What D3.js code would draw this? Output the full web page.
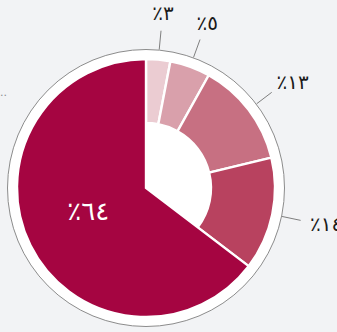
<!DOCTYPE html>
<html>
<head>
<meta charset="utf-8">
<script src="https://cdn.jsdelivr.net/npm/d3@7"></script>
<style>
  html, body { margin: 0; padding: 0; background: #f2f3f5; }
  svg { display: block; }
  text { font-family: "DejaVu Sans", sans-serif; }
</style>
</head>
<body>
<svg id="chart" width="337" height="332"></svg>
<script>
// Shares, in percent, clockwise from twelve o'clock
const shareNames = ["a", "b", "c", "d", "e"];
const shareValues = [3, 5, 13, 14, 64];
const shareColors = ["#ebccd2", "#d9a0ab", "#c77082", "#b8425f", "#a50541"];

const W = 337, H = 332;
const cx = 146, cy = 188;
const rOuter = 129, rInner = 65, rRing = 138.5;

const svg = d3.select("#chart");
svg.append("rect").attr("width", W).attr("height", H).attr("fill", "#f2f3f5");

// Truncated caption at the left edge
svg.append("text")
  .attr("x", 0).attr("y", 96)
  .attr("font-size", 11)
  .attr("fill", "#8a8d93")
  .text("..");

const g = svg.append("g").attr("transform", `translate(${cx},${cy})`);

// White ring with thin gray rim
g.append("circle")
  .attr("r", rRing)
  .attr("fill", "#ffffff")
  .attr("stroke", "#8c8c8c")
  .attr("stroke-width", 1);

const pie = d3.pie().sort(null).value(d => d.value);
const data = shareNames.map((n, i) => ({ name: n, value: shareValues[i], color: shareColors[i] }));
const arcs = pie(data);
const maxVal = d3.max(shareValues);

// Largest share runs to the centre, the rest leave a white hole
const arc = d3.arc()
  .outerRadius(rOuter)
  .innerRadius(d => d.data.value === maxVal ? 0 : rInner);

g.selectAll("path.slice")
  .data(arcs)
  .join("path")
  .attr("class", "slice")
  .attr("d", arc)
  .attr("fill", d => d.data.color)
  .attr("stroke", "#ffffff")
  .attr("stroke-width", 2.4)
  .attr("stroke-linejoin", "miter");

const toArabic = v => String(v).replace(/\d/g, c => "٠١٢٣٤٥٦٧٨٩"[+c]);
const labelOf = v => "٪" + toArabic(v);

const mid = d => (d.startAngle + d.endAngle) / 2;
const outside = arcs.filter(d => d.data.value !== maxVal);

// Leader lines from the rim outward
g.selectAll("line.leader")
  .data(outside)
  .join("line")
  .attr("class", "leader")
  .attr("x1", d => Math.sin(mid(d)) * (rRing + 0.5))
  .attr("y1", d => -Math.cos(mid(d)) * (rRing + 0.5))
  .attr("x2", d => Math.sin(mid(d)) * 158)
  .attr("y2", d => -Math.cos(mid(d)) * 158)
  .attr("stroke", "#7f7f7f")
  .attr("stroke-width", 1);

// Outside labels, nudged so the text box sits beyond the leader's end
const lbl = g.selectAll("text.out")
  .data(outside)
  .join("text")
  .attr("class", "out")
  .attr("font-size", 20)
  .attr("fill", "#1a1a1a")
  .attr("direction", "ltr")
  .attr("text-anchor", "middle")
  .attr("dominant-baseline", "central")
  .text(d => labelOf(d.data.value));

lbl.each(function(d) {
  const w = this.getComputedTextLength();
  const h = 15;
  const a = mid(d);
  const x = Math.sin(a) * 168 + (w / 2) * Math.sin(a);
  const y = -Math.cos(a) * 168 - (h / 2) * Math.cos(a);
  d3.select(this).attr("x", x).attr("y", y);
});

// Label inside the largest share
const big = arcs.find(d => d.data.value === maxVal);
const c = arc.centroid(big);
g.append("text")
  .attr("x", c[0])
  .attr("y", c[1] - 6)
  .attr("font-size", 26)
  .attr("fill", "#ffffff")
  .attr("direction", "ltr")
  .attr("text-anchor", "middle")
  .attr("dominant-baseline", "central")
  .text(labelOf(big.data.value));
</script>
</body>
</html>
